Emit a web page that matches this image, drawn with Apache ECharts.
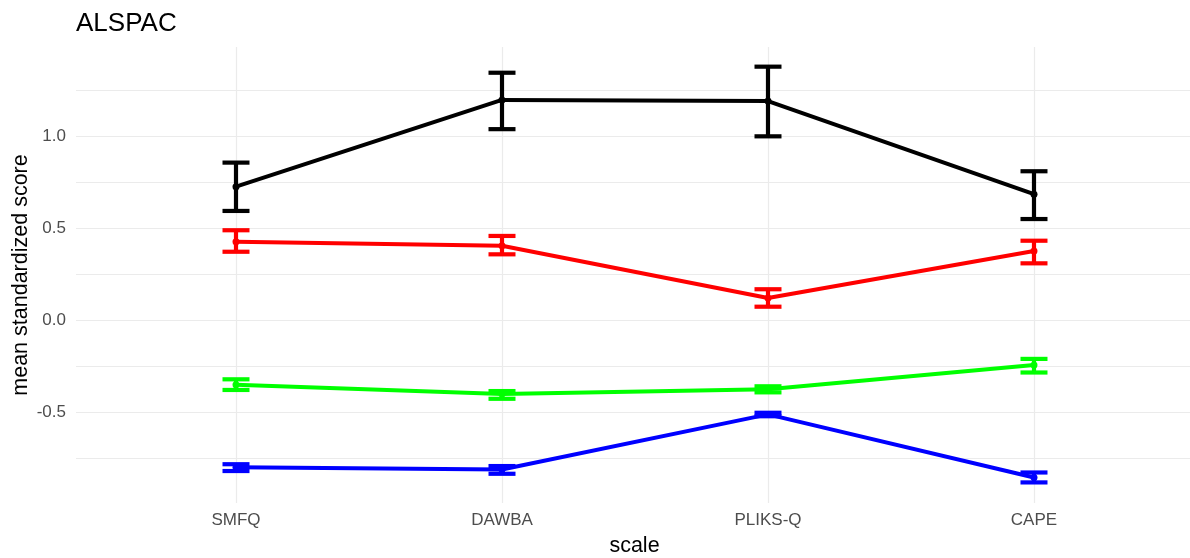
<!DOCTYPE html>
<html>
<head>
<meta charset="utf-8">
<script src="https://cdn.jsdelivr.net/npm/echarts@6/dist/echarts.min.js"></script>
<style>
  html, body { margin: 0; padding: 0; background: #ffffff; }
  #chart { width: 1190px; height: 558px; }
</style>
</head>
<body>
<div id="chart"></div>
<script>
// Scales shown along the x axis
const categories = ['SMFQ', 'DAWBA', 'PLIKS-Q', 'CAPE'];

// Mean standardized score per group, with lower / upper error bounds
const blackMean  = [0.727, 1.199, 1.193, 0.686];
const blackLower = [0.595, 1.040, 1.001, 0.551];
const blackUpper = [0.858, 1.347, 1.380, 0.811];

const redMean  = [0.428, 0.406, 0.121, 0.377];
const redLower = [0.373, 0.359, 0.074, 0.310];
const redUpper = [0.490, 0.459, 0.169, 0.433];

const greenMean  = [-0.350, -0.401, -0.375, -0.243];
const greenLower = [-0.379, -0.427, -0.392, -0.284];
const greenUpper = [-0.321, -0.385, -0.359, -0.210];

const blueMean  = [-0.800, -0.812, -0.512, -0.855];
const blueLower = [-0.820, -0.835, -0.522, -0.882];
const blueUpper = [-0.783, -0.793, -0.503, -0.828];

// Tick positions on the y axis
const yLabelValues = [-0.5, 0, 0.5, 1.0];
const yGridValues = [-0.75, -0.5, -0.25, 0, 0.25, 0.5, 0.75, 1.0, 1.25];

const groups = [
  { color: '#000000', mean: blackMean, lower: blackLower, upper: blackUpper },
  { color: '#ff0000', mean: redMean,   lower: redLower,   upper: redUpper },
  { color: '#00ff00', mean: greenMean, lower: greenLower, upper: greenUpper },
  { color: '#0000ff', mean: blueMean,  lower: blueLower,  upper: blueUpper }
];

const FONT = "'Liberation Sans', Arial, sans-serif";
const chart = echarts.init(document.getElementById('chart'), null, { renderer: 'canvas' });

const series = [];
groups.forEach(function (g) {
  // connecting line with the mean points
  series.push({
    type: 'line',
    data: g.mean.map(function (v, i) { return [i + 1, v]; }),
    lineStyle: { color: g.color, width: 4 },
    itemStyle: { color: g.color },
    symbol: 'circle',
    symbolSize: 7,
    silent: true,
    z: 2
  });
  // error bars with caps
  series.push({
    type: 'custom',
    data: g.mean.map(function (v, i) { return [i + 1, g.lower[i], g.upper[i]]; }),
    renderItem: function (params, api) {
      const x = api.value(0);
      const lo = api.coord([x, api.value(1)]);
      const hi = api.coord([x, api.value(2)]);
      const half = 13.5;
      const style = { stroke: g.color, lineWidth: 4.2, lineCap: 'butt' };
      return {
        type: 'group',
        children: [
          { type: 'line', shape: { x1: lo[0], y1: lo[1], x2: hi[0], y2: hi[1] }, style: style },
          { type: 'line', shape: { x1: hi[0] - half, y1: hi[1], x2: hi[0] + half, y2: hi[1] }, style: style },
          { type: 'line', shape: { x1: lo[0] - half, y1: lo[1], x2: lo[0] + half, y2: lo[1] }, style: style }
        ]
      };
    },
    silent: true,
    z: 3
  });
});

chart.setOption({
  backgroundColor: '#ffffff',
  animation: false,
  grid: { left: 76, top: 47, right: 0, height: 456, containLabel: false },
  xAxis: {
    type: 'value',
    min: 0.3985,
    max: 4.5865,
    axisLine: { show: false },
    axisTick: { show: false, customValues: [1, 2, 3, 4] },
    axisLabel: {
      customValues: [1, 2, 3, 4],
      formatter: function (v) { return categories[Math.round(v) - 1] || ''; },
      color: '#4d4d4d',
      fontFamily: FONT,
      fontSize: 17,
      margin: 9
    },
    splitLine: { show: true, lineStyle: { color: '#ebebeb', width: 1.2 } }
  },
  yAxis: {
    type: 'value',
    min: -0.994,
    max: 1.487,
    axisLine: { show: false },
    axisTick: { show: false, customValues: yGridValues },
    axisLabel: {
      customValues: yLabelValues,
      formatter: function (v) { return v.toFixed(1); },
      color: '#4d4d4d',
      fontFamily: FONT,
      fontSize: 17,
      margin: 10
    },
    splitLine: { show: true, lineStyle: { color: '#ebebeb', width: 1.2 } }
  },
  graphic: [
    {
      type: 'text', left: 76, top: 11,
      style: { text: 'ALSPAC', fill: '#000000', font: '26px ' + FONT }
    },
    {
      type: 'text', x: 21, y: 275, rotation: Math.PI / 2,
      style: { text: 'mean standardized score', fill: '#000000', font: '21.5px ' + FONT,
               align: 'center', verticalAlign: 'middle' }
    },
    {
      type: 'text', x: 634.5, y: 546,
      style: { text: 'scale', fill: '#000000', font: '21.5px ' + FONT,
               align: 'center', verticalAlign: 'middle' }
    }
  ],
  series: series
});
</script>
</body>
</html>
